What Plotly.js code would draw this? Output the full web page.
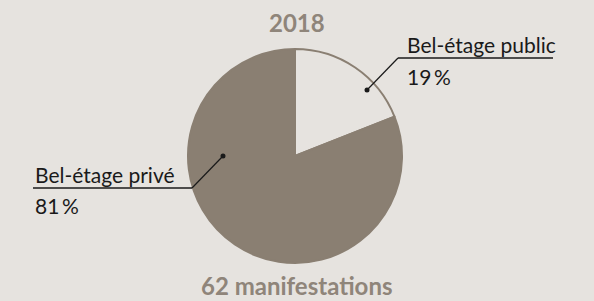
<!DOCTYPE html>
<html>
<head>
<meta charset="utf-8">
<script src="https://cdn.plot.ly/plotly-3.0.1.min.js"></script>
<style>html,body{margin:0;padding:0;background:#e6e3df;}#chart{width:594px;height:301px;}</style>
</head>
<body>
<div id="chart"></div>
<script>
const labels = ['Bel-étage public', 'Bel-étage privé'];
const values = [19, 81];
const sliceColors = ['#e6e3df', '#8a7f72'];
const chartTitle = '2018';
const footer = '62 manifestations';

const W = 594, H = 301;
const px = x => x / W;
const py = y => 1 - y / H;

const BG = '#e6e3df';
const TAN = '#8a7f72';
const TXT = '#1a1a1a';
const FONT = 'Lato, "Open Sans", sans-serif';

const total = values.reduce((a, b) => a + b, 0);
const pct = v => Math.round(v / total * 100) + '\u2009%';

const callouts = [
  {tx: 405, ty: 45, ly: 58, x0: 398, x1: 553, dx: 367, dy: 90, elbow: 398, py: 76},
  {tx: 33, ty: 174, ly: 188, x0: 33, x1: 192, dx: 223, dy: 156, elbow: 192, py: 205}
];

const annotations = [
  {text: '<b>' + chartTitle + '</b>', x: 0.5, y: py(22), xref: 'paper', yref: 'paper', showarrow: false,
   font: {family: FONT, size: 24, color: '#8f857a'}, xanchor: 'center', yanchor: 'middle'},
  {text: '<b>' + footer + '</b>', x: 0.5, y: 0, xref: 'paper', yref: 'paper', showarrow: false,
   font: {family: FONT, size: 24, color: '#8f857a'}, xanchor: 'center', yanchor: 'bottom', yshift: -1}
];
const shapes = [];
labels.forEach((lab, i) => {
  const c = callouts[i];
  annotations.push({text: lab, x: px(c.tx), y: py(c.ty), xref: 'paper', yref: 'paper', showarrow: false,
    font: {family: FONT, size: 21, color: TXT}, xanchor: 'left', yanchor: 'middle'});
  annotations.push({text: pct(values[i]), x: px(c.tx), y: py(c.py), xref: 'paper', yref: 'paper', showarrow: false,
    font: {family: FONT, size: 21, color: TXT}, xanchor: 'left', yanchor: 'middle'});
  shapes.push({type: 'line', xref: 'paper', yref: 'paper', x0: px(c.x0), x1: px(c.x1), y0: py(c.ly), y1: py(c.ly),
    line: {color: TXT, width: 1.5}});
  shapes.push({type: 'line', xref: 'paper', yref: 'paper', x0: px(c.elbow), x1: px(c.dx), y0: py(c.ly), y1: py(c.dy),
    line: {color: TXT, width: 1.2}});
  shapes.push({type: 'circle', xref: 'paper', yref: 'paper', x0: px(c.dx - 2.5), x1: px(c.dx + 2.5), y0: py(c.dy + 2.5), y1: py(c.dy - 2.5),
    fillcolor: TXT, line: {color: TXT, width: 0}});
});

const trace = {
  type: 'pie',
  labels: labels,
  values: values,
  sort: false,
  direction: 'clockwise',
  rotation: 0,
  textinfo: 'none',
  hoverinfo: 'none',
  marker: {colors: sliceColors, line: {color: TAN, width: 2}},
  domain: {x: [px(188), px(402)], y: [py(263), py(49)]},
  showlegend: false
};

Plotly.newPlot('chart', [trace], {
  width: W, height: H,
  margin: {l: 0, r: 0, t: 0, b: 0},
  paper_bgcolor: BG, plot_bgcolor: BG,
  annotations: annotations,
  shapes: shapes,
  showlegend: false
}, {staticPlot: true});
</script>
</body>
</html>
